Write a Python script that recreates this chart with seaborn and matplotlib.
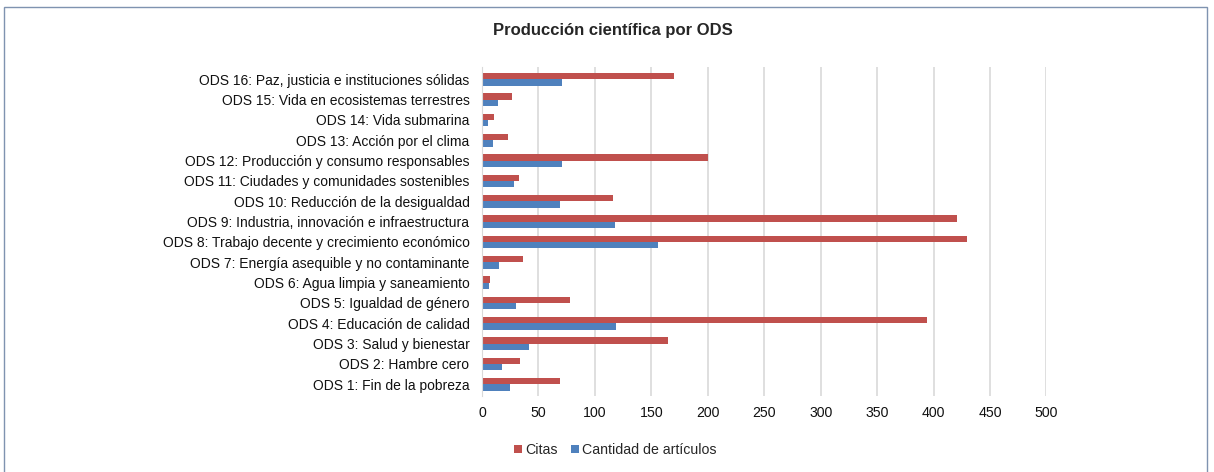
import numpy as np
import pandas as pd
import matplotlib.pyplot as plt
from matplotlib.patches import Rectangle
import seaborn as sns

# Categories listed top to bottom as in the chart
categorias = [
    'ODS 16: Paz, justicia e instituciones sólidas',
    'ODS 15: Vida en ecosistemas terrestres',
    'ODS 14: Vida submarina',
    'ODS 13: Acción por el clima',
    'ODS 12: Producción y consumo responsables',
    'ODS 11: Ciudades y comunidades sostenibles',
    'ODS 10: Reducción de la desigualdad',
    'ODS 9: Industria, innovación e infraestructura',
    'ODS 8: Trabajo decente y crecimiento económico',
    'ODS 7: Energía asequible y no contaminante',
    'ODS 6: Agua limpia y saneamiento',
    'ODS 5: Igualdad de género',
    'ODS 4: Educación de calidad',
    'ODS 3: Salud y bienestar',
    'ODS 2: Hambre cero',
    'ODS 1: Fin de la pobreza',
]
citas = [170, 27, 11, 23, 200, 33, 116, 421, 430, 36, 7, 78, 394, 165, 34, 69]
articulos = [71, 14, 5, 10, 71, 28, 69, 118, 156, 15, 6, 30, 119, 42, 18, 25]
x_ticks = [0, 50, 100, 150, 200, 250, 300, 350, 400, 450, 500]

df = pd.DataFrame({
    'ODS': categorias * 2,
    'valor': citas + articulos,
    'serie': ['Citas'] * len(citas) + ['Cantidad de artículos'] * len(articulos),
})

sns.set_style("white")
plt.rcParams['font.family'] = ['Liberation Sans', 'DejaVu Sans']

fig = plt.figure(figsize=(12.14, 4.72), dpi=100)
ax = fig.add_axes([0.397, 0.160, 0.465, 0.698])

sns.barplot(data=df, y='ODS', x='valor', hue='serie', orient='h',
            order=categorias, hue_order=['Citas', 'Cantidad de artículos'],
            palette=['#C0504D', '#4F81BD'], saturation=1, width=0.62, ax=ax,
            edgecolor='none', legend=True)

ax.set_xlim(0, 500)
ax.set_xticks(x_ticks)
ax.set_xlabel('')
ax.set_ylabel('')
ax.tick_params(axis='x', labelsize=10.2, length=0, pad=7, colors='#111111')
ax.tick_params(axis='y', labelsize=10, length=0, pad=9, colors='#111111')
ax.grid(axis='x', color='#D9D9D9', linewidth=1.2)
ax.set_axisbelow(True)
for s in ['top', 'right', 'bottom']:
    ax.spines[s].set_visible(False)
ax.spines['left'].set_color('#D9D9D9')
ax.set_ylim(15.6, -0.6)

handles, labels = ax.get_legend_handles_labels()
ax.get_legend().remove()
fig.legend(handles, labels, loc='center', bbox_to_anchor=(0.507, 1 - 450 / 472),
           ncol=2, frameon=False, fontsize=10.2, handlelength=0.55, handleheight=0.55,
           handletextpad=0.25, columnspacing=0.9)

fig.text(0.505, 1 - 31 / 472, 'Producción científica por ODS', ha='center', va='center',
         fontsize=12, fontweight='bold')

fig.patches.append(Rectangle((4 / 1214, -0.05), 1203 / 1214, 1 - 7 / 472 + 0.05,
                             transform=fig.transFigure, fill=False,
                             edgecolor='#7F93B0', linewidth=1.0))

fig.savefig('out.png', dpi=100, facecolor='white')
